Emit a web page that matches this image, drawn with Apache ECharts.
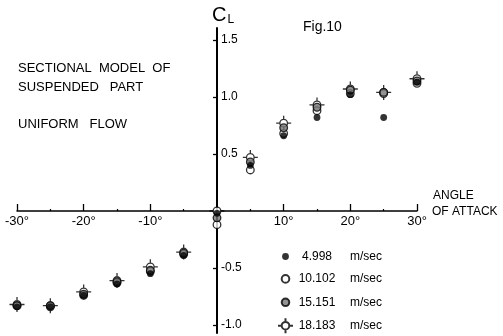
<!DOCTYPE html>
<html><head><meta charset="utf-8">
<script src="https://cdn.jsdelivr.net/npm/echarts@6/dist/echarts.min.js"></script>
<style>html,body{margin:0;padding:0;background:#fff}#c{width:503px;height:336px}</style>
</head><body><div id="c"></div>
<script>
// ---- data ----
const angles = [-30, -25, -20, -15, -10, -5, 0, 5, 10, 15, 20, 25, 30];
const speedNames = ['4.998', '10.102', '15.151', '18.183'];
const cl4998  = [-0.84, -0.84, -0.74, -0.64, -0.55, -0.39, -0.02, 0.40, 0.66, 0.82, 1.02, 0.82, 1.13];
const cl10102 = [-0.83, -0.84, -0.74, -0.63, -0.53, -0.38, -0.12, 0.36, 0.68, 0.88, 1.03, 1.03, 1.12];
const cl15151 = [-0.83, -0.83, -0.73, -0.62, -0.52, -0.37, -0.06, 0.43, 0.73, 0.91, 1.06, 1.04, 1.14];
const cl18183 = [-0.82, -0.83, -0.71, -0.61, -0.49, -0.36, 0.00, 0.47, 0.77, 0.93, 1.07, 1.04, 1.16];
const yTickValues = [-1.0, -0.5, 0.5, 1.0, 1.5];
const yTickLabels = ['-1.0', '-0.5', '0.5', '1.0', '1.5'];
const xTickValues = [-30, -20, -10, 10, 20, 30];
const xTickLabels = ['-30°', '-20°', '-10°', '10°', '20°', '30°'];

// ---- symbols ----
const FRAME = 'M-7.5,-7.5 M7.5,7.5 ';
const circ = r => `M${-r},0 A${r},${r} 0 1,1 ${r},0 A${r},${r} 0 1,1 ${-r},0 Z`;
const symDot = 'path://' + FRAME + circ(3.4);
const symOpen = 'path://' + FRAME + circ(3.8);
const symHatch = 'path://' + FRAME + circ(3.8);
const symCross = 'path://M0,-7.5 L0,-3.8 M0,3.8 L0,7.5 M-7.5,0 L-3.8,0 M3.8,0 L7.5,0 ' + circ(3.8);

const FONT = 'Liberation Sans';
const pair = arr => angles.map((a, i) => [a, arr[i]]);

// grid geometry (x = 0 at 217px, y = 0 at 211px)
const G = {left: 17, right: 86, top: 28, bottom: 3};

const chart = echarts.init(document.getElementById('c'), null, {renderer: 'canvas'});
chart.setOption({
  backgroundColor: '#fff',
  animation: false,
  textStyle: {fontFamily: FONT, color: '#000'},
  grid: {left: G.left, right: G.right, top: G.top, bottom: G.bottom, containLabel: false},
  xAxis: {
    type: 'value', min: -30, max: 30, interval: 10,
    position: 'bottom', offset: -122,
    axisLine: {onZero: false, lineStyle: {color: '#000', width: 1.5}},
    axisTick: {show: true, inside: true, length: 7, lineStyle: {color: '#000', width: 1.3},
               customValues: xTickValues},
    minorTick: {show: true, splitNumber: 2, length: 2, lineStyle: {color: '#000', width: 1.2}},
    axisLabel: {customValues: xTickValues, margin: 4, fontSize: 13, color: '#000', fontFamily: FONT,
                formatter: v => xTickLabels[xTickValues.indexOf(v)] || ''},
    splitLine: {show: false}
  },
  yAxis: {
    type: 'value', min: -1.07, max: 1.605,
    position: 'left', offset: -200,
    axisLine: {onZero: false, lineStyle: {color: '#000', width: 2}},
    axisTick: {show: true, length: 4, customValues: yTickValues, lineStyle: {color: '#000', width: 1.3}},
    axisLabel: {inside: true, margin: 4, fontSize: 12, color: '#000', fontFamily: FONT,
                customValues: yTickValues,
                formatter: v => { const i = yTickValues.findIndex(t => Math.abs(t - v) < 1e-6); return i >= 0 ? yTickLabels[i] : ''; }},
    splitLine: {show: false}
  },
  legend: {
    orient: 'vertical', left: 277, top: 249, padding: 0, height: 120,
    itemWidth: 15, itemHeight: 15, itemGap: 6.4,
    data: speedNames,
    formatter: n => `{n|${n}}{u|m/sec}`,
    textStyle: {
      fontFamily: FONT, fontSize: 12, color: '#000', lineHeight: 15,
      rich: {
        n: {width: 38, align: 'right', fontSize: 12, fontFamily: FONT, lineHeight: 15},
        u: {padding: [0, 0, 0, 14], fontSize: 12, fontFamily: FONT, lineHeight: 15}
      }
    }
  },
  series: [
    {name: speedNames[3], type: 'scatter', data: pair(cl18183), symbol: symCross, symbolSize: 15,
     itemStyle: {color: '#fff', borderColor: '#000', borderWidth: 1.3}, z: 2},
    {name: speedNames[1], type: 'scatter', data: pair(cl10102), symbol: symOpen, symbolSize: 15,
     itemStyle: {color: '#fff', borderColor: '#000', borderWidth: 1.3}, z: 3},
    {name: speedNames[2], type: 'scatter', data: pair(cl15151), symbol: symHatch, symbolSize: 15,
     itemStyle: {color: '#777', borderColor: '#000', borderWidth: 1.3}, z: 4},
    {name: speedNames[0], type: 'scatter', data: pair(cl4998), symbol: symDot, symbolSize: 15,
     itemStyle: {color: '#000', borderWidth: 0}, z: 5}
  ],
  graphic: [
    {type: 'text', left: 212, top: 5, style: {text: '{c|C}{l|L}', fill: '#000',
      rich: {c: {fontSize: 20, fontFamily: FONT}, l: {fontSize: 12, fontFamily: FONT, verticalAlign: 'bottom', padding: [9, 0, 0, 1]}}}},
    {type: 'text', left: 303, top: 20, style: {text: 'Fig.10', fontSize: 14, fontFamily: FONT, fill: '#000'}},
    {type: 'text', left: 18, top: 62, style: {text: 'SECTIONAL  MODEL  OF', fontSize: 13, fontFamily: FONT, fill: '#000'}},
    {type: 'text', left: 18, top: 81, style: {text: 'SUSPENDED   PART', fontSize: 13, fontFamily: FONT, fill: '#000'}},
    {type: 'text', left: 18, top: 118, style: {text: 'UNIFORM   FLOW', fontSize: 13, fontFamily: FONT, fill: '#000'}},
    {type: 'text', left: 433, top: 190, style: {text: 'ANGLE', fontSize: 12, fontFamily: FONT, fill: '#000'}},
    {type: 'text', left: 432, top: 206, style: {text: 'OF ATTACK', fontSize: 12, fontFamily: FONT, fill: '#000'}}
  ]
});
</script>
</body></html>
